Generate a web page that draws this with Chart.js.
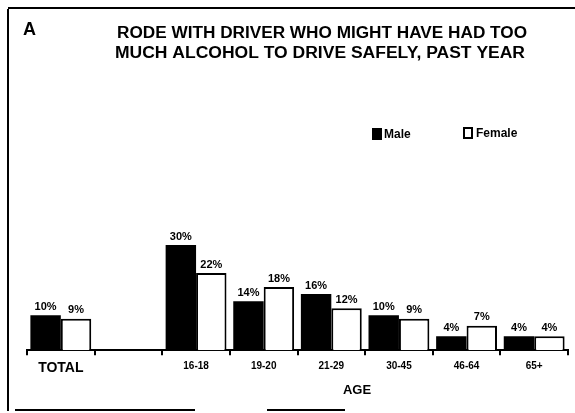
<!DOCTYPE html>
<html><head><meta charset="utf-8">
<script src="https://cdn.jsdelivr.net/npm/chart.js@4/dist/chart.umd.min.js"></script>
<style>html,body{margin:0;padding:0;background:#fff}#wrap{width:575px;height:413px}</style>
</head><body><div id="wrap"><canvas id="c"></canvas></div>
<script>
const panelLetter = "A";
const titleLines = ["RODE WITH DRIVER WHO MIGHT HAVE HAD TOO", "MUCH ALCOHOL TO DRIVE SAFELY, PAST YEAR"];
const categories = ["TOTAL", "", "16-18", "19-20", "21-29", "30-45", "46-64", "65+"];
const seriesNames = ["Male", "Female"];
const maleValues = [10, null, 30, 14, 16, 10, 4, 4];
const femaleValues = [9, null, 22, 18, 12, 9, 7, 4];
const axisTitle = "AGE";

const FONT = "'Liberation Sans', Arial, sans-serif";

function fitText(ctx, text, cx, cy, width) {
  const w = ctx.measureText(text).width;
  const s = width / w;
  ctx.save();
  ctx.translate(cx, cy);
  ctx.scale(s, 1);
  ctx.textAlign = 'center';
  ctx.fillText(text, 0, 0);
  ctx.restore();
}

const decor = {
  id: 'decor',
  afterDraw(chart) {
    const ctx = chart.ctx;
    ctx.save();
    // frame
    ctx.strokeStyle = '#000'; ctx.lineWidth = 2;
    ctx.beginPath();
    ctx.moveTo(8, 9); ctx.lineTo(8, 411);
    ctx.moveTo(8, 8); ctx.lineTo(575, 8);
    ctx.moveTo(15, 410); ctx.lineTo(195, 410);
    ctx.moveTo(267, 410); ctx.lineTo(345, 410);
    ctx.stroke();
    ctx.fillStyle = '#000';
    // panel letter
    ctx.font = "bold 18px " + FONT;
    ctx.textAlign = 'left'; ctx.textBaseline = 'middle';
    ctx.fillText(panelLetter, 23, 30);
    // title
    ctx.font = "bold 16px " + FONT;
    fitText(ctx, titleLines[0], 322, 34, 410);
    fitText(ctx, titleLines[1], 320, 54, 410);
    // legend
    ctx.font = "bold 12px " + FONT;
    ctx.textAlign = 'left';
    ctx.fillRect(372, 128, 10, 12);
    ctx.fillText(seriesNames[0], 384, 135);
    ctx.lineWidth = 2;
    ctx.strokeRect(464, 128, 8, 10);
    ctx.fillText(seriesNames[1], 476, 134);
    // axis title
    ctx.font = "bold 13px " + FONT;
    ctx.textAlign = 'center';
    ctx.fillText(axisTitle, 357, 390);
    // value labels
    ctx.font = "bold 11px " + FONT;
    ctx.textAlign = 'center'; ctx.textBaseline = 'bottom';
    chart.data.datasets.forEach((ds, di) => {
      const meta = chart.getDatasetMeta(di);
      meta.data.forEach((bar, i) => {
        const v = ds.data[i];
        if (v === null || v === undefined) return;
        ctx.fillText(v + "%", bar.x, bar.y - 3);
      });
    });
    ctx.restore();
  }
};

new Chart(document.getElementById('c'), {
  type: 'bar',
  data: {
    labels: categories,
    datasets: [
      { label: seriesNames[0], data: maleValues, backgroundColor: '#000', borderColor: '#000', borderWidth: 0 },
      { label: seriesNames[1], data: femaleValues, backgroundColor: '#fff', borderColor: '#000', borderWidth: 2 }
    ]
  },
  options: {
    responsive: true, maintainAspectRatio: false, animation: false,
    layout: { padding: { left: 27, right: 7, top: 210, bottom: 31 } },
    datasets: { bar: { categoryPercentage: 0.9, barPercentage: 1.0, skipNull: false } },
    plugins: { legend: { display: false }, title: { display: false }, tooltip: { enabled: false } },
    scales: {
      x: {
        offset: true,
        grid: { display: true, drawOnChartArea: false, drawTicks: true, tickLength: 5, color: '#000', lineWidth: 2, offset: true },
        border: { display: true, color: '#000', width: 2 },
        ticks: {
          color: '#000', padding: 5, maxRotation: 0, autoSkip: false,
          font: (c) => c.index === 0 ? { family: FONT, size: 14, weight: 'bold' } : { family: FONT, size: 10, weight: 'bold' }
        },
        title: { display: false }
      },
      y: { display: false, min: 0, max: 40 }
    }
  },
  plugins: [decor]
});
</script></body></html>
